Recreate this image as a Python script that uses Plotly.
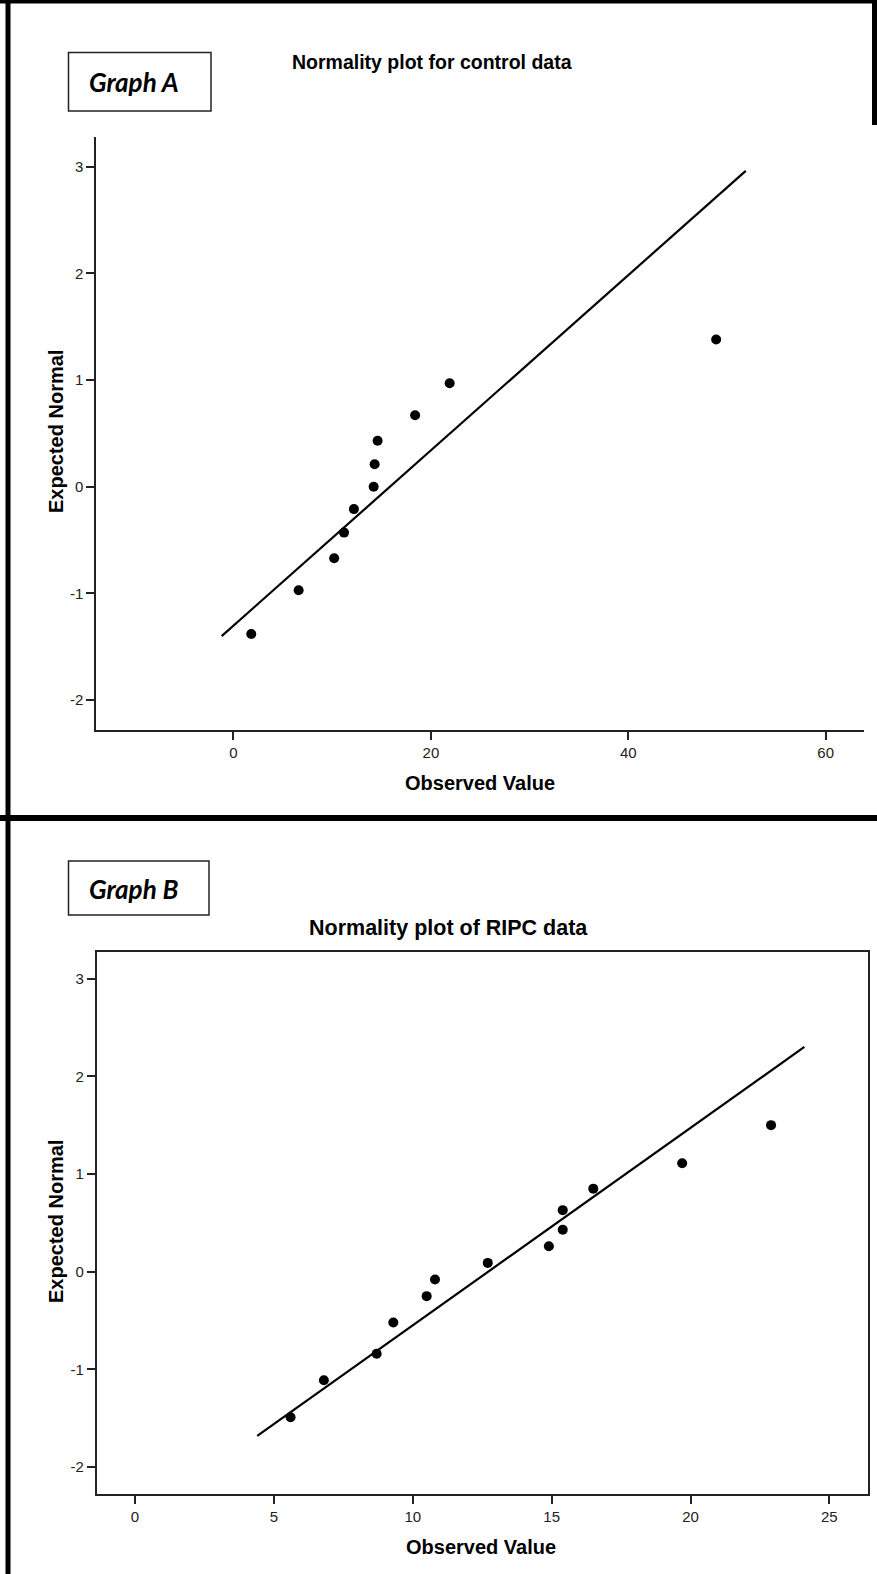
import plotly.graph_objects as go

W, H = 877, 1574

# ---------------- data ----------------
# Graph A : control data
control_observed = [1.8, 6.6, 10.2, 11.2, 12.2, 14.2, 14.3, 14.6, 18.4, 21.9, 48.9]
control_expected = [-1.38, -0.97, -0.67, -0.43, -0.21, 0.0, 0.21, 0.43, 0.67, 0.97, 1.38]
control_line_x = [-1.2, 51.9]
control_line_y = [-1.40, 2.96]
control_xticks = [0, 20, 40, 60]

# Graph B : RIPC data
ripc_observed = [5.6, 6.8, 8.7, 9.3, 10.5, 10.8, 12.7, 14.9, 15.4, 15.4, 16.5, 19.7, 22.9]
ripc_expected = [-1.49, -1.11, -0.84, -0.52, -0.25, -0.08, 0.09, 0.26, 0.43, 0.63, 0.85, 1.11, 1.50]
ripc_line_x = [4.4, 24.1]
ripc_line_y = [-1.68, 2.30]
ripc_xticks = [0, 5, 10, 15, 20, 25]

yticks = [-2, -1, 0, 1, 2, 3]
ytick_labels = ["-2", "-1", "0", "1", "2", "3"]

# ---------------- helpers ----------------
def px_x(p):
    return p / W

def px_y(p):
    return 1 - p / H

TICK_FONT = dict(family="Liberation Sans Narrow, Liberation Sans, Arial, sans-serif", size=15, color="#222")
TITLE_FONT = dict(family="Liberation Sans, Arial, sans-serif", size=20, color="#000")
LABEL_FONT = dict(family="Lato, Liberation Sans, sans-serif", size=26, color="#000")

fig = go.Figure()

fig.add_trace(go.Scatter(x=control_line_x, y=control_line_y, mode="lines",
                         line=dict(color="black", width=2.2), xaxis="x", yaxis="y",
                         showlegend=False, hoverinfo="skip"))
fig.add_trace(go.Scatter(x=control_observed, y=control_expected, mode="markers",
                         marker=dict(color="black", size=10), xaxis="x", yaxis="y",
                         showlegend=False))
fig.add_trace(go.Scatter(x=ripc_line_x, y=ripc_line_y, mode="lines",
                         line=dict(color="black", width=2.2), xaxis="x2", yaxis="y2",
                         showlegend=False, hoverinfo="skip"))
fig.add_trace(go.Scatter(x=ripc_observed, y=ripc_expected, mode="markers",
                         marker=dict(color="black", size=10), xaxis="x2", yaxis="y2",
                         showlegend=False))

axis_common = dict(showgrid=False, zeroline=False, showline=True, linecolor="#222",
                   linewidth=1.5, ticks="outside", tickcolor="#222", tickwidth=1.5,
                   tickfont=TICK_FONT)

fig.update_layout(
    width=W, height=H,
    margin=dict(l=0, r=0, t=0, b=0),
    paper_bgcolor="white", plot_bgcolor="white",
    showlegend=False,
    xaxis=dict(axis_common, domain=[px_x(96), px_x(864.4)], range=[-13.93, 63.92],
               tickvals=control_xticks, ticklen=8, anchor="y"),
    yaxis=dict(axis_common, domain=[px_y(730), px_y(136.7)], range=[-2.28, 3.28],
               tickvals=yticks, ticktext=ytick_labels, ticklen=8, anchor="x"),
    xaxis2=dict(axis_common, domain=[px_x(96.7), px_x(867.7)], range=[-1.38, 26.38],
                tickvals=ripc_xticks, ticklen=8, anchor="y2", mirror=True),
    yaxis2=dict(axis_common, domain=[px_y(1494), px_y(951.7)], range=[-2.275, 3.275],
                tickvals=yticks, ticktext=ytick_labels, ticklen=8, anchor="x2", mirror=True),
)

annotations = []
def ann(text, x, y, font, angle=0):
    annotations.append(dict(text=text, x=px_x(x), y=px_y(y), xref="paper", yref="paper",
                            xanchor="center", yanchor="middle", showarrow=False,
                            font=font, textangle=angle))

ann("<b>Normality plot for control data</b>", 432, 62, dict(TITLE_FONT, size=19.5))
ann("<b>Normality plot of RIPC data</b>", 448, 928, dict(TITLE_FONT, size=21.5))
ann("<b>Observed Value</b>", 480, 783, TITLE_FONT)
ann("<b>Observed Value</b>", 481, 1547, TITLE_FONT)
ann("<b>Expected Normal</b>", 56, 432, TITLE_FONT, -90)
ann("<b>Expected Normal</b>", 56, 1222, TITLE_FONT, -90)
ann("<b><i>Graph A</i></b>", 134, 82, LABEL_FONT)
ann("<b><i>Graph B</i></b>", 133, 889, LABEL_FONT)
fig.update_layout(annotations=annotations)

shapes = []
def rect(x0, y0, x1, y1, fill=None, line=None):
    d = dict(type="rect", xref="paper", yref="paper",
             x0=px_x(x0), x1=px_x(x1), y0=px_y(y1), y1=px_y(y0), layer="above")
    if fill:
        d["fillcolor"] = fill
        d["line"] = dict(width=0)
    else:
        d["fillcolor"] = "rgba(0,0,0,0)"
        d["line"] = line
    shapes.append(d)

# outer frame pieces
rect(0, 0, W, 3.5, fill="black")          # top border
rect(5.5, 0, 10.5, H, fill="black")       # left border
rect(0, 815, W, 821, fill="black")        # separator between panels
rect(872, 0, W, 125, fill="black")        # right border (top part)
# label boxes
rect(68.5, 52.5, 211, 111, line=dict(color="#222", width=1.5))
rect(68.5, 861, 209, 915, line=dict(color="#222", width=1.5))
fig.update_layout(shapes=shapes)

fig.write_html("out.html", config={"displayModeBar": False},
               post_script="document.body.style.margin='0';")
